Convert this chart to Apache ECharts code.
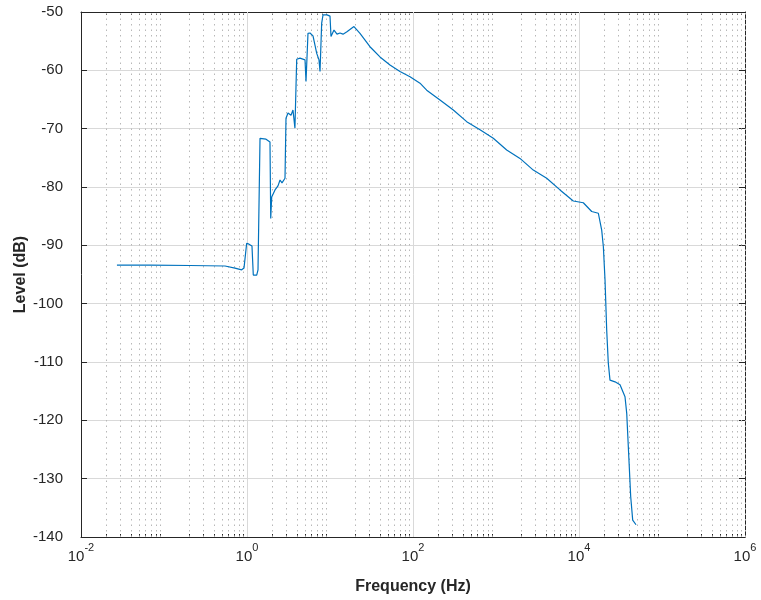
<!DOCTYPE html>
<html><head><meta charset="utf-8">
<script src="https://cdn.jsdelivr.net/npm/echarts@6/dist/echarts.min.js"></script>
<style>html,body{margin:0;padding:0;background:#fff}#c{width:761px;height:600px}</style>
</head><body><div id="c"></div>
<script>
// Frequency (Hz) and level (dB)
const freqHz = [0.0271, 0.0677, 0.2056, 0.543, 0.716, 0.863, 0.920, 0.991, 1.057, 1.148, 1.191, 1.309, 1.357,
  1.435, 1.516, 1.694, 1.892, 1.931, 1.985, 2.175, 2.363, 2.50, 2.64, 2.87, 2.95, 3.12, 3.39, 3.58, 3.78,
  3.97, 4.35, 5.00, 5.14, 5.28, 5.43, 5.74, 6.24, 6.92, 7.37, 7.58, 7.94, 8.24, 9.21, 10.0, 10.28, 11.17,
  12.14, 13.2, 14.35, 16.0, 19.45, 22.97, 30.3, 40.0, 52.8, 69.7, 92.0, 121.4, 146.2, 211.4, 306, 443.6,
  641.6, 927.5, 1345, 1945, 2813, 4083, 5902, 8534, 11270, 14220, 17100, 18770, 19650, 20580, 21560,
  22550, 23620, 27160, 31200, 35830, 37580, 39270, 41980, 44360, 48640];
const levelDb = [-93.4, -93.4, -93.46, -93.54, -93.9, -94.2, -93.9, -89.65, -89.8, -90.1, -95.1, -95.1, -94.2,
  -71.65, -71.6, -71.8, -72.3, -85.4, -81.7, -80.5, -79.8, -78.8, -79.3, -78.5, -68.2, -67.3, -67.7, -66.8, -69.9,
  -58.1, -57.9, -58.2, -61.9, -61.7, -53.65, -53.6, -54.1, -57.1, -58.2, -60.2, -51.9, -50.5, -50.5, -50.7, -54.2, -53.1,
  -53.8, -53.6, -53.8, -53.4, -52.5, -53.65, -55.95, -57.7, -59.1, -60.2, -61.1, -62.2, -63.4, -65.1, -66.8, -68.8,
  -70.2, -71.65, -73.65, -75.1, -77.1, -78.5, -80.5, -82.4, -82.7, -84.2, -84.5, -87.4, -90.2, -95.9, -104.5,
  -110.2, -113.1, -113.4, -113.9, -115.95, -118.8, -124.5, -133.1, -137.1, -137.9];
const xMajorTicks = [0.01, 1, 100, 10000, 1000000];
const yMin = -140, yMax = -50, yStep = 10;

const xMinorTicks = [];
for (let k = -2; k < 6; k++) {
  for (let m = 2; m <= 10; m++) {
    const v = m * Math.pow(10, k);
    if (m === 10 && k % 2 === 0) continue; // odd decades are minor in this plot
    xMinorTicks.push(+v.toPrecision(6));
  }
}

const FONT = 'Liberation Sans, Arial, Helvetica, sans-serif';
const INK = '#262626';
const chart = echarts.init(document.getElementById('c'), null, {renderer: 'canvas'});

function supLabel(v) {
  const e = Math.round(Math.log10(v));
  return '{b|10}{s|' + e + '}';
}
const rich = {
  b: {fontSize: 15, fontFamily: FONT, color: INK, lineHeight: 22, verticalAlign: 'bottom'},
  s: {fontSize: 11, fontFamily: FONT, color: INK, lineHeight: 22, verticalAlign: 'top'}
};

const baseLog = {type: 'log', logBase: 10, min: 0.01, max: 1000000};

chart.setOption({
  animation: false,
  backgroundColor: '#ffffff',
  grid: {left: 81, right: 16, top: 12, bottom: 63, containLabel: false},
  xAxis: [
    Object.assign({}, baseLog, {
      position: 'bottom',
      name: 'Frequency (Hz)', nameLocation: 'middle', nameGap: 42,
      nameTextStyle: {fontFamily: FONT, fontSize: 16, fontWeight: 'bold', color: INK},
      axisLine: {show: true, lineStyle: {color: INK, width: 1}},
      axisTick: {show: true, inside: true, length: 6, lineStyle: {color: INK}, customValues: xMajorTicks},
      axisLabel: {show: true, margin: 5, customValues: xMajorTicks, formatter: supLabel, rich: rich},
      splitLine: {show: false}, minorTick: {show: false}
    }),
    Object.assign({}, baseLog, {
      position: 'top',
      axisLine: {show: true, lineStyle: {color: INK, width: 1}},
      axisTick: {show: true, inside: true, length: 6, lineStyle: {color: INK}, customValues: xMajorTicks},
      axisLabel: {show: false}, splitLine: {show: false}
    }),
    Object.assign({}, baseLog, {
      position: 'bottom',
      axisLine: {show: false},
      axisTick: {show: true, inside: true, length: 3, lineStyle: {color: INK}, customValues: xMinorTicks},
      axisLabel: {show: false}, splitLine: {show: false}
    }),
    Object.assign({}, baseLog, {
      position: 'top',
      axisLine: {show: false},
      axisTick: {show: true, inside: true, length: 3, lineStyle: {color: INK}, customValues: xMinorTicks},
      axisLabel: {show: false}, splitLine: {show: false}
    })
  ],
  yAxis: [
    {
      type: 'value', min: yMin, max: yMax, interval: yStep, position: 'left',
      name: 'Level (dB)', nameLocation: 'middle', nameGap: 52, nameMoveOverlap: false,
      nameTextStyle: {fontFamily: FONT, fontSize: 16, fontWeight: 'bold', color: INK},
      axisLine: {show: true, lineStyle: {color: INK, width: 1}},
      axisTick: {show: true, inside: true, length: 6, lineStyle: {color: INK}},
      axisLabel: {fontFamily: FONT, fontSize: 15, color: INK, margin: 18},
      splitLine: {show: true, lineStyle: {color: '#d9d9d9', width: 1}}
    },
    {
      type: 'value', min: yMin, max: yMax, interval: yStep, position: 'right',
      axisLine: {show: true, lineStyle: {color: INK, width: 1}},
      axisTick: {show: true, inside: true, length: 6, lineStyle: {color: INK}},
      axisLabel: {show: false}, splitLine: {show: false}
    }
  ],
  series: [
    {
      type: 'line', xAxisIndex: 0, yAxisIndex: 0, data: [], z: 1, silent: true,
      markLine: {
        silent: true, symbol: ['none', 'none'], label: {show: false}, animation: false,
        lineStyle: {color: '#b8b8b8', width: 1, type: [1.5, 4]},
        emphasis: {disabled: true},
        data: xMinorTicks.map(v => ({xAxis: v}))
      }
    },
    {
      type: 'line', xAxisIndex: 0, yAxisIndex: 0, data: [], z: 1, silent: true,
      markLine: {
        silent: true, symbol: ['none', 'none'], label: {show: false}, animation: false,
        lineStyle: {color: '#d9d9d9', width: 1, type: 'solid'},
        emphasis: {disabled: true},
        data: xMajorTicks.slice(1, -1).map(v => ({xAxis: v}))
      }
    },
    {
      type: 'line', xAxisIndex: 0, yAxisIndex: 0, z: 5,
      data: freqHz.map((f, i) => [f, levelDb[i]]),
      showSymbol: false, symbol: 'none',
      lineStyle: {color: '#0072BD', width: 1.2},
      itemStyle: {color: '#0072BD'}
    }
  ]
});
</script>
</body></html>
